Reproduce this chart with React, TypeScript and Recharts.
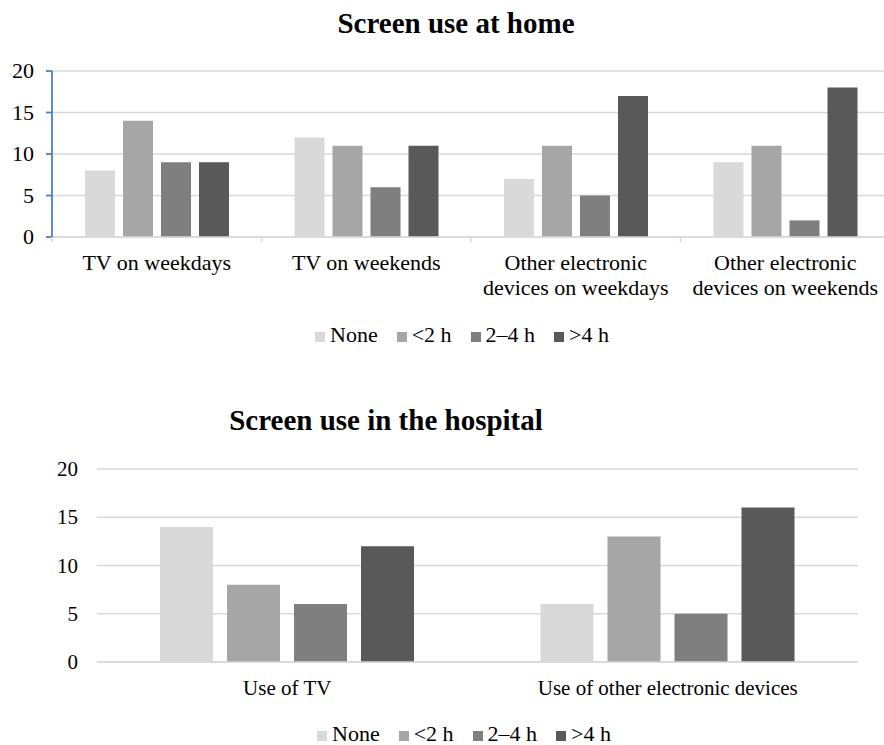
import React from 'react';
import { BarChart, Bar, XAxis, YAxis, CartesianGrid, Legend } from 'recharts';

// Screen use at home (\n marks where the axis label wraps)
const homeCategories = [
  'TV on weekdays',
  'TV on weekends',
  'Other electronic\ndevices on weekdays',
  'Other electronic\ndevices on weekends',
];
const homeNone = [8, 12, 7, 9];
const homeUnder2 = [14, 11, 11, 11];
const home2to4 = [9, 6, 5, 2];
const homeOver4 = [9, 11, 17, 18];

// Screen use in the hospital
const hospitalCategories = ['Use of TV', 'Use of other electronic devices'];
const hospitalNone = [14, 6];
const hospitalUnder2 = [8, 13];
const hospital2to4 = [6, 5];
const hospitalOver4 = [12, 16];

const seriesNames = ['None', '<2 h', '2–4 h', '>4 h'];
const yTicks = [0, 5, 10, 15, 20];

const SERIF = 'Liberation Serif, Times New Roman, serif';
const COLORS = ['#d9d9d9', '#a6a6a6', '#7f7f7f', '#595959'];
const GRID = '#d9d9d9';

const homeData = homeCategories.map((name, i) => ({
  name,
  none: homeNone[i],
  lt2: homeUnder2[i],
  mid: home2to4[i],
  gt4: homeOver4[i],
}));

const hospitalData = hospitalCategories.map((name, i) => ({
  name,
  none: hospitalNone[i],
  lt2: hospitalUnder2[i],
  mid: hospital2to4[i],
  gt4: hospitalOver4[i],
}));

const keys = ['none', 'lt2', 'mid', 'gt4'];

// category label with a small tick at the left edge of each band
const HomeTick = (props: any) => {
  const { x, y, payload } = props;
  const half = payload.offset ?? 0;
  const lines = String(payload.value).split('\n');
  return (
    <g>
      <line x1={x - half} x2={x - half} y1={y} y2={y + 5} stroke={GRID} strokeWidth={1.5} />
      <text x={x} y={y + 33} textAnchor="middle" fill="#000" fontSize={22} fontFamily={SERIF}>
        {lines.map((l, i) => (
          <tspan key={i} x={x} dy={i === 0 ? 0 : 25}>
            {l}
          </tspan>
        ))}
      </text>
    </g>
  );
};

const HospitalTick = (props: any) => {
  const { x, y, payload } = props;
  return (
    <text x={x} y={y + 33} textAnchor="middle" fill="#000" fontSize={21} fontFamily={SERIF}>
      {payload.value}
    </text>
  );
};

const NumTick = (props: any) => {
  const { x, y, payload, size } = props;
  return (
    <text x={x} y={y} dy={7} textAnchor="end" fill="#000" fontSize={size} fontFamily={SERIF}>
      {payload.value}
    </text>
  );
};

const LegendBox = () => (
  <div style={{ display: 'flex', height: 20, lineHeight: '20px', fontFamily: SERIF, fontSize: 22, color: '#000' }}>
    {seriesNames.map((n, i) => (
      <div key={n} style={{ display: 'flex', alignItems: 'center', marginRight: 19 }}>
        <span style={{ width: 10, height: 10, background: COLORS[i], marginRight: 5, marginTop: 4 }} />
        <span>{n}</span>
      </div>
    ))}
  </div>
);

const titleStyle: React.CSSProperties = {
  position: 'absolute',
  textAlign: 'center',
  fontFamily: SERIF,
  fontWeight: 'bold',
  fontSize: 29,
  lineHeight: '29px',
  color: '#000',
};

export default function App() {
  return (
    <div style={{ position: 'absolute', left: 0, top: 0, width: 884, height: 745, overflow: 'hidden', background: '#fff' }}>
      <div style={{ ...titleStyle, left: 0, top: 9, width: 912 }}>Screen use at home</div>
      <div style={{ position: 'absolute', left: 0, top: 0 }}>
        <BarChart
          width={890}
          height={360}
          data={homeData}
          margin={{ top: 71, right: 0, left: 12, bottom: 43 }}
          barSize={30}
          barGap={8}
        >
          <CartesianGrid vertical={false} stroke={GRID} strokeWidth={1.5} />
          <XAxis
            dataKey="name"
            height={60}
            interval={0}
            tickSize={0}
            tickMargin={0}
            tickLine={false}
            axisLine={{ stroke: GRID, strokeWidth: 1.5 }}
            tick={<HomeTick />}
          />
          <YAxis
            width={40}
            domain={[0, 20]}
            ticks={yTicks}
            tickSize={6}
            tickMargin={12}
            axisLine={{ stroke: '#4a7ebb', strokeWidth: 1.75 }}
            tickLine={{ stroke: '#4a7ebb', strokeWidth: 1.75 }}
            tick={<NumTick size={22} />}
          />
          <Legend content={<LegendBox />} wrapperStyle={{ left: 315, top: 325, width: 330 }} />
          {keys.map((k, i) => (
            <Bar key={k} dataKey={k} name={seriesNames[i]} fill={COLORS[i]} isAnimationActive={false} />
          ))}
        </BarChart>
      </div>

      <div style={{ ...titleStyle, left: 0, top: 406, width: 772 }}>Screen use in the hospital</div>
      <div style={{ position: 'absolute', left: 0, top: 395 }}>
        <BarChart
          width={884}
          height={350}
          data={hospitalData}
          margin={{ top: 74, right: 26, left: 0, bottom: 23 }}
          barSize={53}
          barGap={14}
        >
          <CartesianGrid vertical={false} stroke={GRID} strokeWidth={1.5} />
          <XAxis
            dataKey="name"
            height={40}
            interval={0}
            tickSize={0}
            tickMargin={0}
            tickLine={false}
            axisLine={{ stroke: GRID, strokeWidth: 1.5 }}
            tick={<HospitalTick />}
          />
          <YAxis
            width={97}
            domain={[0, 20]}
            ticks={yTicks}
            tickSize={0}
            tickMargin={19}
            axisLine={false}
            tickLine={false}
            tick={<NumTick size={21} />}
          />
          <Legend content={<LegendBox />} wrapperStyle={{ left: 317, top: 329, width: 330 }} />
          {keys.map((k, i) => (
            <Bar key={k} dataKey={k} name={seriesNames[i]} fill={COLORS[i]} isAnimationActive={false} />
          ))}
        </BarChart>
      </div>
    </div>
  );
}
